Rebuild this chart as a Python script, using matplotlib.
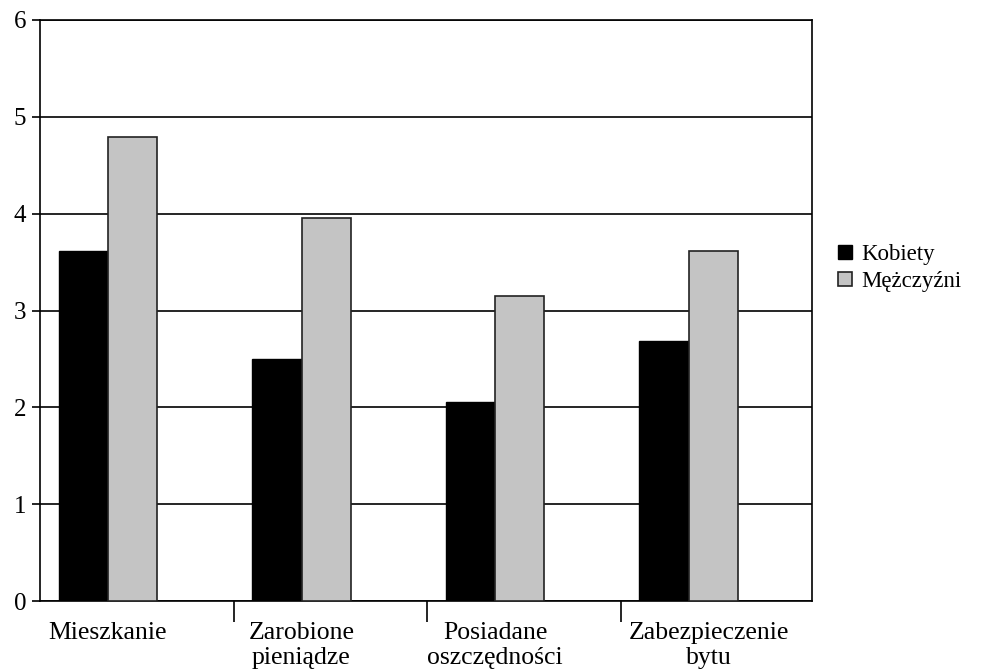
import matplotlib
matplotlib.use("Agg")
import matplotlib.pyplot as plt
import matplotlib.transforms as mtransforms
import numpy as np

categories = ["Mieszkanie", "Zarobione\npieniądze", "Posiadane\noszczędności", "Zabezpieczenie\nbytu"]
kobiety = [3.61, 2.50, 2.06, 2.69]
mezczyzni = [4.79, 3.96, 3.15, 3.61]
series_names = ["Kobiety", "Mężczyźni"]

plt.rcParams['font.family'] = ['Liberation Serif', 'DejaVu Serif']

fig = plt.figure(figsize=(9.82, 6.72), dpi=100)
ax = fig.add_axes([40/982, 71/672, 772/982, 581/672])

x = np.arange(len(categories))
w = 0.255
ax.bar(x - w/2, kobiety, w, color="black", edgecolor="black", linewidth=1.0, label=series_names[0], zorder=3)
ax.bar(x + w/2, mezczyzni, w, color="#c4c4c4", edgecolor="#222222", linewidth=1.2, label=series_names[1], zorder=3)

left = -68/193.5
ax.set_xlim(left, left + 772/193.5)
ax.set_ylim(0, 6)
ax.set_yticks(range(0, 7))
ax.yaxis.grid(True, color="black", linewidth=1.2, zorder=1)
ax.set_axisbelow(True)

ax.set_xticks(x)
ax.set_xticklabels(categories, fontsize=18.5, linespacing=1.2)
ax.tick_params(axis='x', which='major', length=0, pad=15)
ax.set_xticks([left + k for k in range(1, 4)], minor=True)
ax.tick_params(axis='x', which='minor', length=15, width=1.2, direction='out')
ax.tick_params(axis='y', length=6, width=1.2, labelsize=18, pad=4)

# last category label sits slightly right of its bars in the original
lbl = ax.get_xticklabels()[3]
lbl.set_transform(lbl.get_transform() + mtransforms.ScaledTranslation(0.2, 0, fig.dpi_scale_trans))

for s in ax.spines.values():
    s.set_linewidth(1.2)
    s.set_color("black")

leg = fig.legend(loc="upper left", bbox_to_anchor=(829/982, 1 - 235/672), frameon=False,
                 fontsize=16.5, handlelength=0.6, handleheight=0.6, handletextpad=0.4,
                 labelspacing=0.25, borderaxespad=0)

fig.savefig("out.png", dpi=100)
